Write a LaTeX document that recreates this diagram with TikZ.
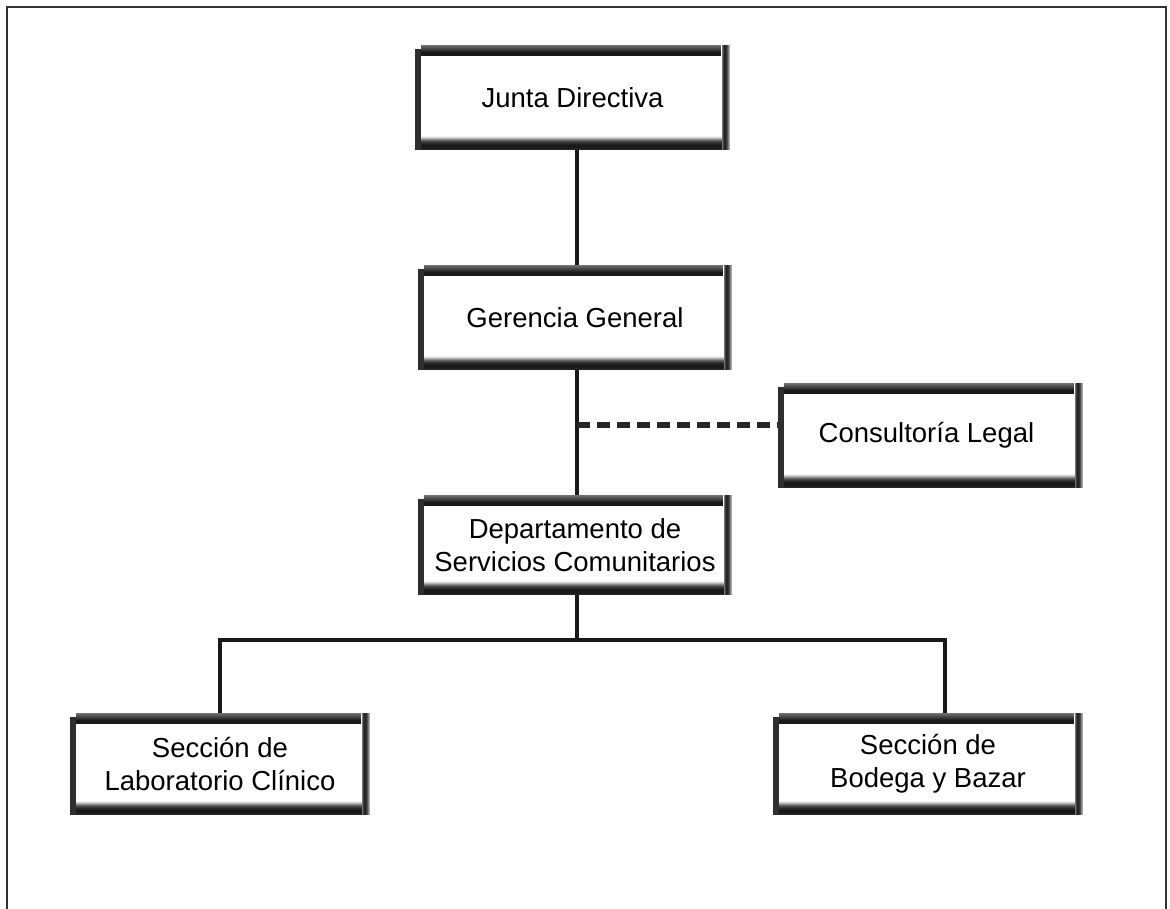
\documentclass[tikz,border=0pt]{standalone}
\usepackage{fontspec}
\setmainfont{Liberation Sans}
\begin{document}
\begin{tikzpicture}[x=1pt,y=-1pt,
  orgbox/.style={rectangle, fill=white, inner sep=0pt, align=center,
    text=black, font=\fontsize{27.5}{33}\selectfont,
    path picture={
      % top bevel: grey at the outer edge, darkening inwards
      \foreach \k in {0,...,10}{
        \pgfmathsetmacro{\shadeval}{min(90,55+5*\k)}
        \fill[black!\shadeval]
          ([xshift=6pt,yshift=-\k pt]path picture bounding box.north west)
          rectangle ([xshift=-9pt,yshift=-\k pt-1.05pt]path picture bounding box.north east);
      }
      % bottom bevel: fades in from white, darkest at the outer edge
      \foreach \k/\v in {0/5,1/15,2/30,3/45,4/60,5/70,6/78,7/84,8/88,9/90,10/90,11/90,12/88,13/85}{
        \fill[black!\v]
          ([xshift=6pt,yshift=14pt-\k pt]path picture bounding box.south west)
          rectangle ([xshift=-6pt,yshift=14pt-\k pt-1.05pt]path picture bounding box.south east);
      }
      % left edge
      \fill[black!82]
        ([yshift=-4pt]path picture bounding box.north west)
        rectangle ([xshift=6pt]path picture bounding box.south west);
      % right edge: dark core with softer sides
      \foreach \k/\v in {0/55,1/75,2/85,3/85,4/80,5/68,6/50,7/35}{
        \fill[black!\v]
          ([xshift=-8pt+\k pt]path picture bounding box.north east)
          rectangle ([xshift=-6.95pt+\k pt]path picture bounding box.south east);
      }
    }},
  link/.style={line width=4.5pt, black!90},
  dotlink/.style={line width=6.5pt, black!85, dash pattern=on 13pt off 7pt}
]
\useasboundingbox (0,0) rectangle (1170,909);

% outer frame, open at the bottom
\draw[line width=2.5pt, black!80] (7,915) -- (7,7) -- (1166,7) -- (1166,915);

% boxes
\node[orgbox, minimum width=315pt, minimum height=105pt] (junta) at (572.5,97.5) {Junta Directiva};
\node[orgbox, minimum width=314pt, minimum height=105pt] (gerencia) at (575,317.5) {Gerencia General};
\node[orgbox, minimum width=305pt, minimum height=105pt] (legal) at (930.5,435.5) {\hspace*{-8pt}Consultoría Legal};
\node[orgbox, minimum width=314pt, minimum height=100pt] (depto) at (575,545) {Departamento de\\Servicios Comunitarios};
\node[orgbox, minimum width=300pt, minimum height=102pt] (lab) at (220,764) {Sección de\\Laboratorio Clínico};
\node[orgbox, minimum width=310pt, minimum height=102pt] (bodega) at (928,764) {Sección de\\Bodega y Bazar};

% connector guides
\coordinate (spine) at (577,0);
\coordinate (busL) at (220,640);
\coordinate (busR) at (945,640);
\coordinate (tap) at (577,425);

% connectors
\draw[link] (spine |- junta.south) -- (spine |- gerencia.north);
\draw[link] (spine |- gerencia.south) -- (spine |- depto.north);
\draw[dotlink] (tap) -- (tap -| legal.west);
\draw[link] (spine |- depto.south) -- (spine |- busL);
\draw[link] ([xshift=-2pt]busL) -- ([xshift=2pt]busR);
\draw[link] (busL) -- (busL |- lab.north);
\draw[link] (busR) -- (busR |- bodega.north);
\end{tikzpicture}
\end{document}
